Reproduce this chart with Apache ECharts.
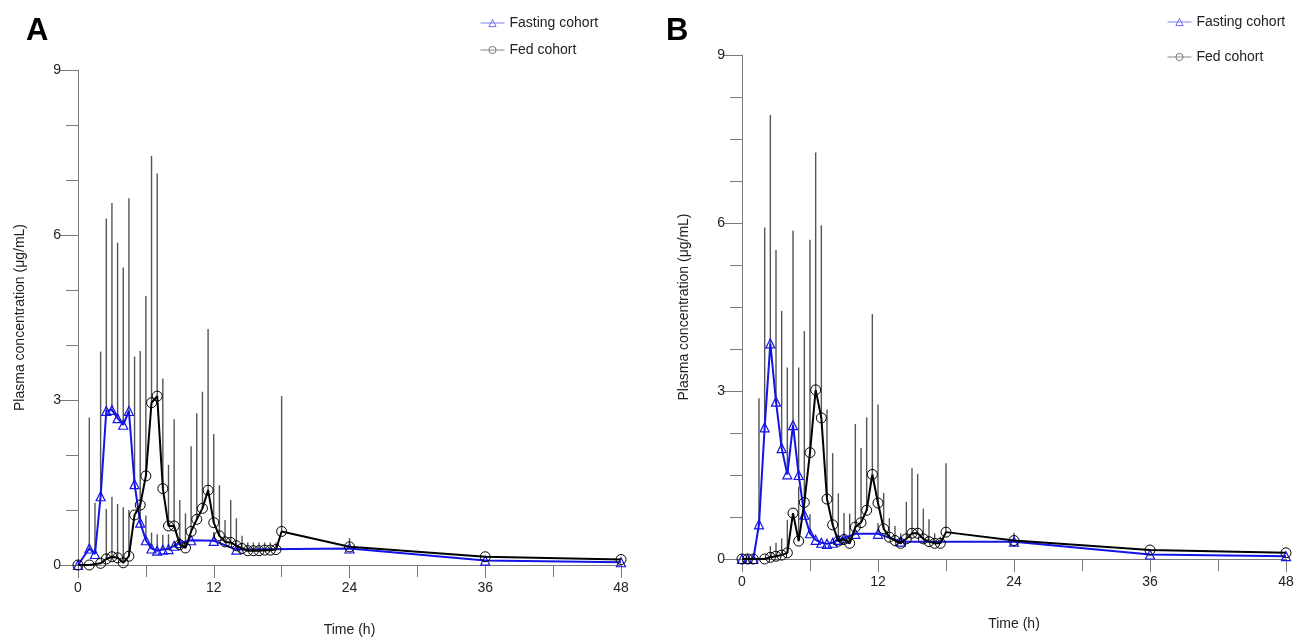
<!DOCTYPE html>
<html><head><meta charset="utf-8">
<script src="https://cdn.jsdelivr.net/npm/echarts@6/dist/echarts.min.js"></script>
<style>html,body{margin:0;padding:0;background:#fff}#c{width:1299px;height:637px}</style>
</head><body><div id="c"></div>
<script>
// ---------- Data ----------
const xTicks = [0, 12, 24, 36, 48];
const yTicks = [0, 3, 6, 9];

// Panel A – fasting cohort
const tA_fast = [0,1,1.5,2,2.5,3,3.5,4,4.5,5,5.5,6,6.5,7,7.5,8,8.5,9,10,12,14,24,36,48];
const cA_fast = [0,0.3,0.2,1.25,2.8,2.82,2.67,2.55,2.8,1.47,0.77,0.45,0.3,0.26,0.28,0.29,0.35,0.4,0.45,0.44,0.28,0.3,0.08,0.05];
const uA_fast = [null,2.68,1.13,3.88,6.3,6.58,5.86,5.41,6.67,3.79,3.89,0.9,0.59,0.56,0.55,0.56,null,null,null,0.6,0.4,0.4,null,null];

// Panel A – fed cohort
const tA_fed = [0,1,2,2.5,3,3.5,4,4.5,5,5.5,6,6.5,7,7.5,8,8.5,9,9.5,10,10.5,11,11.5,12,12.5,13,13.5,14,14.5,15,15.5,16,16.5,17,17.5,18,24,36,48];
const cA_fed = [0,0,0.03,0.11,0.15,0.13,0.04,0.16,0.91,1.09,1.62,2.95,3.07,1.39,0.71,0.71,0.37,0.31,0.61,0.83,1.03,1.36,0.77,0.53,0.42,0.41,0.35,0.3,0.26,0.26,0.26,0.27,0.27,0.28,0.61,0.33,0.15,0.1];
const uA_fed = [null,null,null,1.02,1.24,1.11,1.05,1.0,null,null,4.89,7.44,7.12,3.39,1.82,2.65,1.18,0.94,2.16,2.76,3.15,4.29,2.38,1.45,0.82,1.18,0.85,0.53,0.41,0.41,0.41,0.41,0.41,0.41,3.07,0.49,null,null];

// Panel B – fasting cohort
const tB_fast = [0,0.5,1,1.5,2,2.5,3,3.5,4,4.5,5,5.5,6,6.5,7,7.5,8,8.5,9,10,12,14,24,36,48];
const cB_fast = [0,0,0,0.62,2.35,3.85,2.81,1.98,1.51,2.39,1.5,0.79,0.46,0.34,0.29,0.27,0.29,0.34,0.37,0.45,0.45,0.31,0.31,0.08,0.05];
const uB_fast = [null,null,null,2.87,5.92,7.93,5.52,4.43,3.42,5.86,3.42,4.07,0.8,null,null,null,null,null,null,null,0.64,null,null,null,null];

// Panel B – fed cohort
const tB_fed = [0,0.5,1,2,2.5,3,3.5,4,4.5,5,5.5,6,6.5,7,7.5,8,8.5,9,9.5,10,10.5,11,11.5,12,12.5,13,13.5,14,14.5,15,15.5,16,16.5,17,17.5,18,24,36,48];
const cB_fed = [0,0,0,0,0.03,0.05,0.07,0.11,0.82,0.32,1.01,1.9,3.02,2.52,1.07,0.61,0.32,0.35,0.28,0.57,0.65,0.87,1.51,1.0,0.54,0.39,0.33,0.28,0.36,0.46,0.46,0.36,0.31,0.28,0.28,0.48,0.33,0.16,0.11];
const uB_fed = [null,null,null,null,0.23,0.29,0.37,0.7,null,1.29,null,5.7,7.26,5.96,2.67,1.89,1.17,0.82,0.81,2.41,1.98,2.53,4.375,2.76,1.18,0.73,0.59,0.46,1.02,1.62,1.52,0.9,0.71,0.46,0.4,1.71,0.47,null,null];

const names = ['Fasting cohort', 'Fed cohort'];
const panelLabels = ['A', 'B'];
const yName = 'Plasma concentration (\u03bcg/mL)';
const xName = 'Time (h)';

// ---------- Styling ----------
const FONT = "'Liberation Sans', Arial, sans-serif";
const AX = '#7a7a7a';
const BLUE = '#1414e6';
const CLEAR = 'rgba(255,255,255,0)';

function pairs(t, v) { return t.map((x, i) => [x, v[i]]); }
function errData(t, v, u) {
  const out = [];
  t.forEach((x, i) => { if (u[i] != null) out.push([x, v[i], u[i]]); });
  return out;
}
function errSeries(t, v, u, idx, k) {
  return {
    type: 'custom', name: 'err' + idx + '_' + k, xAxisIndex: idx, yAxisIndex: idx,
    data: errData(t, v, u), z: 1, silent: true,
    encode: { x: 0, y: [1, 2] },
    renderItem: function (params, api) {
      const p0 = api.coord([api.value(0), api.value(1)]);
      const p1 = api.coord([api.value(0), api.value(2)]);
      return { type: 'line', shape: { x1: p0[0], y1: p0[1], x2: p1[0], y2: p1[1] },
               style: { stroke: '#555', lineWidth: 1.4 } };
    }
  };
}
function xAxis(idx) {
  return {
    type: 'value', gridIndex: idx, min: 0, max: 48, interval: 12,
    axisLine: { show: true, onZero: false, lineStyle: { color: AX, width: 1 } },
    axisTick: { show: true, length: 13, lineStyle: { color: AX } },
    minorTick: { show: true, splitNumber: 2, length: 12, lineStyle: { color: AX } },
    splitLine: { show: false }, minorSplitLine: { show: false },
    axisLabel: { fontSize: 14, color: '#222', margin: 16, fontFamily: FONT,
                 customValues: xTicks },
    name: xName, nameLocation: 'middle', nameGap: 58,
    nameTextStyle: { fontSize: 14, color: '#222', fontFamily: FONT }
  };
}
function yAxis(idx, minorSplit) {
  return {
    type: 'value', gridIndex: idx, min: 0, max: 9, interval: 3,
    axisLine: { show: true, onZero: false, lineStyle: { color: AX, width: 1 } },
    axisTick: { show: true, length: 18, lineStyle: { color: AX } },
    minorTick: { show: true, splitNumber: minorSplit, length: 12, lineStyle: { color: AX } },
    splitLine: { show: false }, minorSplitLine: { show: false },
    axisLabel: { fontSize: 14, color: '#222', margin: 17, fontFamily: FONT, customValues: yTicks },
    name: yName, nameLocation: 'middle', nameGap: 51,
    nameTextStyle: { fontSize: 14, color: '#222', fontFamily: FONT }
  };
}
function lineSeries(name, t, v, idx, fasting) {
  return {
    type: 'line', name: name, xAxisIndex: idx, yAxisIndex: idx, data: pairs(t, v),
    z: fasting ? 3 : 4,
    symbol: fasting ? 'triangle' : 'circle', symbolSize: fasting ? 9 : 10,
    showAllSymbol: true,
    lineStyle: { color: fasting ? BLUE : '#000', width: 2 },
    itemStyle: fasting ? { color: CLEAR, borderColor: BLUE, borderWidth: 1.2 }
                       : { color: CLEAR, borderColor: '#000', borderWidth: 1 },
    emphasis: { disabled: true }, animation: false
  };
}
function legend(left, top, gap) {
  return {
    orient: 'vertical', left: left, top: top, itemGap: gap, itemWidth: 24, itemHeight: 9,
    textStyle: { fontSize: 14, color: '#222', fontFamily: FONT },
    selectedMode: false,
    data: [
      { name: names[0],
        itemStyle: { color: CLEAR, borderColor: '#6f6ff0', borderWidth: 1 },
        lineStyle: { color: '#7f7ff2', width: 1 } },
      { name: names[1],
        itemStyle: { color: CLEAR, borderColor: '#777', borderWidth: 1 },
        lineStyle: { color: '#888', width: 1 } }
    ]
  };
}

const chart = echarts.init(document.getElementById('c'), null, { renderer: 'canvas' });
chart.setOption({
  animation: false,
  backgroundColor: '#fff',
  title: [
    { text: panelLabels[0], left: 21, top: 11, textStyle: { fontSize: 31, fontWeight: 'bold', color: '#000', fontFamily: FONT } },
    { text: panelLabels[1], left: 661, top: 11, textStyle: { fontSize: 31, fontWeight: 'bold', color: '#000', fontFamily: FONT } }
  ],
  legend: [legend(475, 11, 13), legend(1162, 10, 21)],
  grid: [
    { left: 78, top: 70, width: 543, height: 495, outerBoundsMode: 'none' },
    { left: 742, top: 55, width: 544, height: 504, outerBoundsMode: 'none' }
  ],
  xAxis: [xAxis(0), xAxis(1)],
  yAxis: [yAxis(0, 3), yAxis(1, 4)],
  series: [
    errSeries(tA_fast, cA_fast, uA_fast, 0, 0),
    errSeries(tA_fed, cA_fed, uA_fed, 0, 1),
    errSeries(tB_fast, cB_fast, uB_fast, 1, 0),
    errSeries(tB_fed, cB_fed, uB_fed, 1, 1),
    lineSeries(names[0], tA_fast, cA_fast, 0, true),
    lineSeries(names[1], tA_fed, cA_fed, 0, false),
    lineSeries(names[0], tB_fast, cB_fast, 1, true),
    lineSeries(names[1], tB_fed, cB_fed, 1, false)
  ]
});
</script>
</body></html>
